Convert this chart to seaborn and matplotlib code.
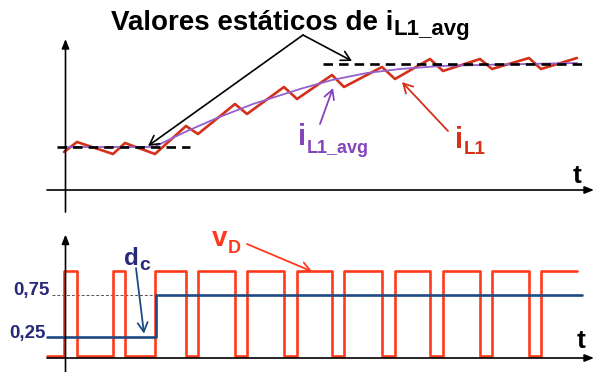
import numpy as np
import pandas as pd
import matplotlib
matplotlib.use("Agg")
import matplotlib.pyplot as plt
import seaborn as sns

# ---- switching instants (common time base for both traces) ----
t_on = [-0.1, 4.8, 9.0, 13.3, 18.2, 23.2, 27.9, 33.0, 37.8, 42.7, 47.6]
t_off = [1.2, 6.0, 12.1, 17.0, 21.9, 26.7, 31.7, 36.5, 41.5, 46.4]
t_end = 51.2

# ---- inductor current i_L1 at the switching instants ----
i_on = [3.8, 3.6, 3.6, 5.6, 7.6, 9.1, 10.3, 11.1, 11.9, 12.1, 12.1]
i_off = [4.8, 4.7, 6.4, 8.6, 10.3, 11.5, 12.3, 13.1, 13.1, 13.2]
i_end = 13.2

# ---- averaged current i_L1_avg ----
avg_t = [0.0, 8.9, 12.0, 15.2, 18.8, 23.5, 26.7, 30.2, 33.5, 37.5, 43.5, 51.2]
avg_i = [4.3, 4.3, 5.8, 7.2, 8.6, 10.1, 11.0, 11.7, 12.1, 12.4, 12.55, 12.7]

# ---- static (steady-state) values of i_L1_avg ----
steady_vals = [4.3, 12.6]
steady_t0 = [-0.8, 25.8]
steady_t1 = [12.5, 52.0]

# ---- diode voltage v_D levels and duty cycle d_c ----
vd_low, vd_high = 0.02, 1.03
vd_start = -1.8
dc_t = [-1.8, 9.1, 9.1, 51.7]
dc_v = [0.25, 0.25, 0.75, 0.75]
dc_ticks = [0.75, 0.25]
dc_tick_labels = ["0,75", "0,25"]

W, H = 595, 372
sns.set_theme(style="white")
plt.rcParams["font.family"] = ["Liberation Sans", "DejaVu Sans"]

fig = plt.figure(figsize=(W / 100, H / 100), dpi=100)
fig.patch.set_facecolor("white")

# top panel: currents ; bottom panel: v_D and d_c
ax1 = fig.add_axes([0, 1 - 215 / H, 1, 215 / H])
ax2 = fig.add_axes([0, 0, 1, 157 / H])
ax1.set_xlim(-6.5, 53.0)
ax1.set_ylim(-2.5, 19.0)
ax2.set_xlim(-6.5, 53.0)
ax2.set_ylim(-0.1667, 1.7024)
for ax in (ax1, ax2):
    ax.set_axis_off()

RED_I = "#d4301a"
RED_V = "#ff3a1c"
PURPLE_L = "#9660cc"
PURPLE_T = "#8444bc"
NAVY_T = "#27287a"
BLUE_L = "#1d4a84"

# inductor current (triangular ripple)
it, iv = [], []
for k in range(len(t_on)):
    it.append(t_on[k]); iv.append(i_on[k])
    if k < len(t_off):
        it.append(t_off[k]); iv.append(i_off[k])
it.append(t_end); iv.append(i_end)
df_i = pd.DataFrame({"t": it, "i": iv})
df_avg = pd.DataFrame({"t": avg_t, "i": avg_i})

sns.lineplot(data=df_avg, x="t", y="i", sort=False, estimator=None,
             color=PURPLE_L, lw=1.3, ax=ax1, legend=False, zorder=3)
sns.lineplot(data=df_i, x="t", y="i", sort=False, estimator=None,
             color=RED_I, lw=1.9, ax=ax1, legend=False, zorder=2)
for v, a, b in zip(steady_vals, steady_t0, steady_t1):
    ax1.plot([a, b], [v, v], color="black", lw=1.9, dashes=(3.6, 2.3), zorder=4)

# diode voltage square wave
vt, vv = [vd_start], [vd_low]
for k in range(len(t_on)):
    vt += [t_on[k], t_on[k]]; vv += [vd_low, vd_high]
    if k < len(t_off):
        vt += [t_off[k], t_off[k]]; vv += [vd_high, vd_low]
vt.append(t_end); vv.append(vd_high)
df_v = pd.DataFrame({"t": vt, "v": vv})
df_dc = pd.DataFrame({"t": dc_t, "v": dc_v})

ax2.plot([-1.3, dc_t[1]], [dc_v[2], dc_v[2]], color="#555555", lw=0.7,
         dashes=(3, 2), zorder=1)
sns.lineplot(data=df_v, x="t", y="v", sort=False, estimator=None,
             color=RED_V, lw=1.9, ax=ax2, legend=False, zorder=2)
sns.lineplot(data=df_dc, x="t", y="v", sort=False, estimator=None,
             color=BLUE_L, lw=1.9, ax=ax2, legend=False, zorder=3)

# coordinate axes with arrow heads
axis_arrow = dict(arrowstyle="-|>,head_length=0.55,head_width=0.22",
                  color="black", lw=1.2, shrinkA=0, shrinkB=0, mutation_scale=10)
ax1.annotate("", xy=(52.9, 0), xytext=(-1.8, 0), arrowprops=axis_arrow)
ax1.annotate("", xy=(0.05, 15.1), xytext=(0.05, -2.2), arrowprops=axis_arrow)
ax2.annotate("", xy=(52.9, 0), xytext=(-1.8, 0), arrowprops=axis_arrow)
ax2.annotate("", xy=(0.05, 1.47), xytext=(0.05, -0.17), arrowprops=axis_arrow)


def pointer(ax, xy, xytext, color, lw=1.2):
    ax.annotate("", xy=xy, xytext=xytext,
                arrowprops=dict(arrowstyle="->,head_length=0.55,head_width=0.3",
                                color=color, lw=lw, shrinkA=0, shrinkB=0,
                                mutation_scale=12))


pointer(ax1, (8.3, steady_vals[0] + 0.1), (23.8, 15.5), "black")
pointer(ax1, (28.7, steady_vals[1] + 0.3), (23.8, 15.5), "black")
pointer(ax1, (26.8, 10.2), (25.5, 6.6), PURPLE_T, lw=1.3)
pointer(ax1, (33.7, 10.8), (38.3, 5.9), RED_I, lw=1.3)
pointer(ax2, (7.9, 0.29), (7.1, 1.07), BLUE_L, lw=1.3)
pointer(ax2, (24.7, 1.03), (18.2, 1.357), RED_V, lw=1.3)

# ---- text ----
fig.canvas.draw()
renderer = fig.canvas.get_renderer()


def px_text(x, y, s, color, size, ha="left"):
    return fig.text(x / W, 1 - y / H, s, color=color, fontsize=size,
                    fontweight="bold", va="baseline", ha=ha)


def sub_label(x, y, main, sub, color, s_main, s_sub, drop):
    t = px_text(x, y, main, color, s_main)
    bb = t.get_window_extent(renderer)
    px_text(bb.x1 + 0.5, y + drop, sub, color, s_sub)


sub_label(111, 30, "Valores estáticos de i", "L1_avg", "black", 20, 16, 5.5)
sub_label(298, 145, "i", "L1_avg", PURPLE_T, 21, 13, 8)
sub_label(455, 148, "i", "L1", RED_I, 21, 13.5, 6)
sub_label(124, 265, "d", "c", NAVY_T, 17.5, 14, 5)
sub_label(212, 246, "v", "D", RED_V, 20, 13, 7)
px_text(50, 295.5, dc_tick_labels[0], NAVY_T, 13.5, ha="right")
px_text(46, 338, dc_tick_labels[1], NAVY_T, 13.5, ha="right")
px_text(573, 183, "t", "black", 19)
px_text(577, 348, "t", "black", 19)

fig.savefig("out.png", dpi=100, facecolor="white")
